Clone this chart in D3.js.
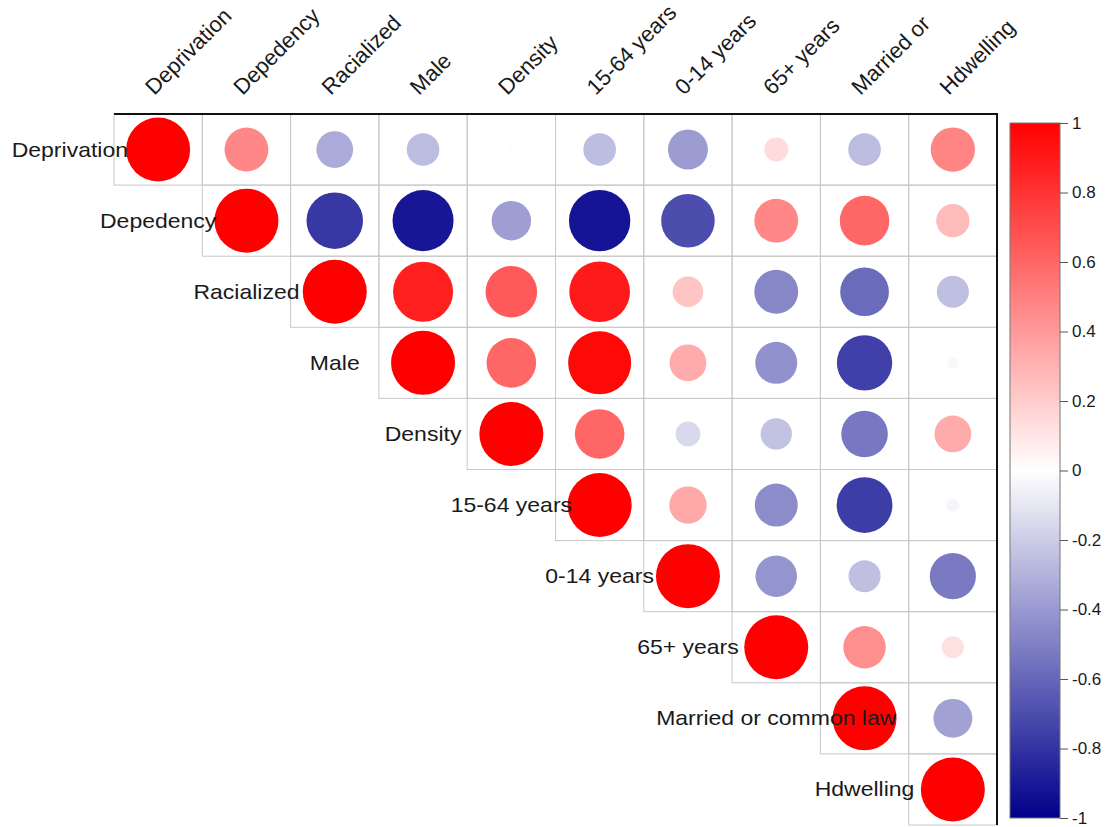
<!DOCTYPE html>
<html>
<head>
<meta charset="utf-8">
<script src="https://cdn.jsdelivr.net/npm/d3@7"></script>
<style>
	body { margin: 0; background: #fff; }
	text { font-family: "Liberation Sans", Arial, sans-serif; fill: #1a1a1a; }
</style>
</head>
<body>
<svg id="chart" width="1119" height="827"></svg>
<script>
// variable names (rows and columns)
var varNames = ["Deprivation", "Depedency", "Racialized", "Male", "Density",
	"15-64 years", "0-14 years", "65+ years", "Married or common law", "Hdwelling"];

// column labels as they appear above the grid
var colLabels = ["Deprivation", "Depedency", "Racialized", "Male", "Density",
	"15-64 years", "0-14 years", "65+ years", "Married or", "Hdwelling"];

// upper triangle of the correlation matrix, row i starts at the diagonal
var corrRows = [
	[1, 0.47, -0.33, -0.26, 0.01, -0.26, -0.39, 0.14, -0.26, 0.48],
	[1, -0.78, -0.91, -0.38, -0.92, -0.70, 0.47, 0.60, 0.27],
	[1, 0.88, 0.65, 0.90, 0.23, -0.47, -0.58, -0.25],
	[1, 0.60, 0.97, 0.33, -0.43, -0.75, -0.03],
	[1, 0.60, -0.15, -0.24, -0.53, 0.33],
	[1, 0.34, -0.45, -0.76, -0.04],
	[1, -0.42, -0.25, -0.52],
	[1, 0.44, 0.12],
	[1, -0.37],
	[1]
];

var legendTicks = [-1, -0.8, -0.6, -0.4, -0.2, 0, 0.2, 0.4, 0.6, 0.8, 1];

var cells = [];
corrRows.forEach(function (row, i) {
	row.forEach(function (v, k) {
		cells.push({ row: varNames[i], col: varNames[i + k], value: v });
	});
});

var svg = d3.select("#chart");

var x = d3.scaleBand().domain(varNames).range([114, 997]);
var y = d3.scaleBand().domain(varNames).range([114, 825]);
var radius = d3.scaleSqrt().domain([0, 1]).range([0, 32]);
var colour = d3.scaleLinear()
	.domain([-1, 0, 1])
	.range(["#00008b", "#ffffff", "#ff0000"]);

// cell outlines
svg.append("g")
	.selectAll("rect")
	.data(cells)
	.enter()
  .append("rect")
	.attr("x", function (d) { return x(d.col); })
	.attr("y", function (d) { return y(d.row); })
	.attr("width", x.bandwidth())
	.attr("height", y.bandwidth())
	.attr("fill", "none")
	.attr("stroke", "#c8c8c8")
	.attr("stroke-width", 1);

// circles
svg.append("g")
	.selectAll("circle")
	.data(cells)
	.enter()
  .append("circle")
	.attr("cx", function (d) { return x(d.col) + x.bandwidth() / 2; })
	.attr("cy", function (d) { return y(d.row) + y.bandwidth() / 2; })
	.attr("r", function (d) { return radius(Math.abs(d.value)); })
	.attr("fill", function (d) { return colour(d.value); });

// black top and right border
svg.append("path")
	.attr("d", "M" + x.range()[0] + "," + y.range()[0] + "H" + x.range()[1] + "V" + y.range()[1])
	.attr("fill", "none")
	.attr("stroke", "#111")
	.attr("stroke-width", 2);

// row labels, centred one column to the left of the diagonal
svg.append("g")
	.selectAll("text")
	.data(varNames)
	.enter()
  .append("text")
	.attr("transform", function (d) {
		var cx = x(d) + x.bandwidth() / 2 - x.bandwidth();
		var cy = y(d) + y.bandwidth() / 2;
		return "translate(" + cx + "," + cy + ") scale(1.15,1)";
	})
	.attr("text-anchor", "middle")
	.attr("dy", "0.35em")
	.style("font-size", "20px")
	.text(function (d) { return d; });

// column labels, rotated
svg.append("g")
	.selectAll("text")
	.data(varNames)
	.enter()
  .append("text")
	.attr("transform", function (d) {
		var px = x(d) + x.bandwidth() / 2 - 4;
		return "translate(" + px + ",96) rotate(-45)";
	})
	.style("font-size", "22px")
	.text(function (d, i) { return colLabels[i]; });

// colour legend
var legendY = d3.scaleLinear().domain([-1, 1]).range([818, 123]);

var grad = svg.append("defs")
  .append("linearGradient")
	.attr("id", "corrGrad")
	.attr("x1", 0).attr("y1", 1)
	.attr("x2", 0).attr("y2", 0);

grad.selectAll("stop")
	.data(d3.range(-1, 1.001, 0.05))
	.enter()
  .append("stop")
	.attr("offset", function (d) { return (d + 1) / 2; })
	.attr("stop-color", function (d) { return colour(d); });

svg.append("rect")
	.attr("x", 1010)
	.attr("y", legendY(1))
	.attr("width", 50)
	.attr("height", legendY(-1) - legendY(1))
	.attr("fill", "url(#corrGrad)")
	.attr("stroke", "#777")
	.attr("stroke-width", 1);

var legendAxis = svg.append("g")
	.attr("transform", "translate(1060,0)")
	.call(d3.axisRight(legendY)
		.tickValues(legendTicks)
		.tickSize(8)
		.tickPadding(4)
		.tickFormat(function (d) { return String(+d.toFixed(1)); }));

legendAxis.select(".domain").remove();
legendAxis.selectAll(".tick line").attr("stroke", "#555");
legendAxis.selectAll(".tick text")
	.attr("fill", "#1a1a1a")
	.style("font-family", "'Liberation Sans', Arial, sans-serif")
	.style("font-size", "17px");
</script>
</body>
</html>
